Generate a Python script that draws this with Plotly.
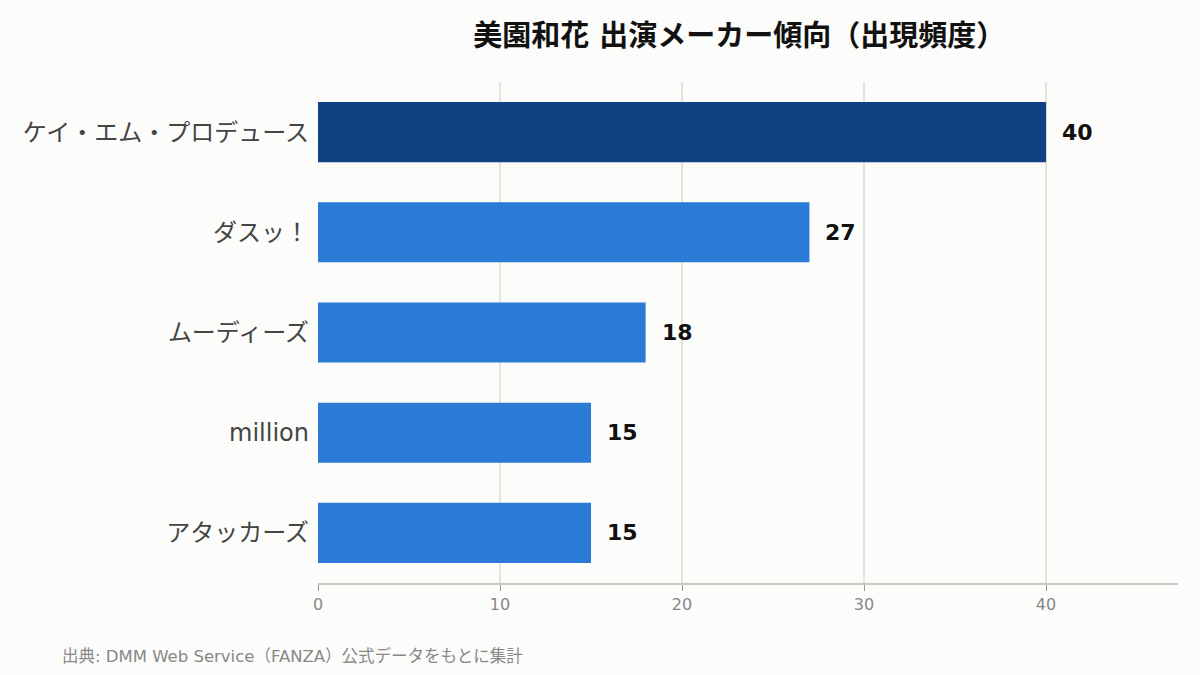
import plotly.graph_objects as go

makers = ['ケイ・エム・プロデュース', 'ダスッ！', 'ムーディーズ', 'million', 'アタッカーズ']
counts = [40, 27, 18, 15, 15]
bar_colors = ['#0f4183', '#2b7ad6', '#2b7ad6', '#2b7ad6', '#2b7ad6']

title = '美園和花 出演メーカー傾向（出現頻度）'
source = '出典: DMM Web Service（FANZA）公式データをもとに集計'

font_main = 'DejaVu Sans, Noto Sans CJK JP, sans-serif'

fig = go.Figure()
fig.add_trace(go.Bar(
    x=counts, y=makers, orientation='h',
    marker=dict(color=bar_colors, line=dict(width=0)),
    hoverinfo='skip',
))

# value labels just right of each bar
for m, c in zip(makers, counts):
    fig.add_annotation(x=c, y=m, text=f'<b>{c}</b>', showarrow=False,
                       xanchor='left', xshift=14,
                       font=dict(family=font_main, size=22, color='#111111'))

fig.add_annotation(x=-0.30, y=-0.145, xref='paper', yref='paper',
                   xanchor='left', yanchor='middle', showarrow=False,
                   text=source, font=dict(family=font_main, size=16.5, color='#888888'))

fig.update_layout(
    width=1200, height=675,
    paper_bgcolor='#fcfcfa', plot_bgcolor='#fcfcfa',
    margin=dict(l=318, r=22, t=82, b=92),
    title=dict(text=f'<b>{title}</b>', x=0.616, xanchor='center', y=0.947, yanchor='middle',
               font=dict(family=font_main, size=29, color='#111111')),
    bargap=0.4,
    showlegend=False,
    font=dict(family=font_main),
)
fig.update_xaxes(range=[0, 47.25], tickvals=[0, 10, 20, 30, 40],
                 showgrid=True, gridcolor='#e4e4df', gridwidth=1.5,
                 showline=True, linecolor='#c8c8c0', linewidth=2,
                 ticks='outside', ticklen=6, tickcolor='#999999',
                 tickfont=dict(family=font_main, size=16, color='#888888'),
                 zeroline=False, fixedrange=True)
fig.update_yaxes(categoryorder='array', categoryarray=makers[::-1],
                 showgrid=False, showline=False, ticks='', ticklabelstandoff=8,
                 tickfont=dict(family=font_main, size=24, color='#444444'),
                 fixedrange=True)

fig.write_html('out.html', config={'displayModeBar': False},
               post_script="document.body.style.margin='0';")
